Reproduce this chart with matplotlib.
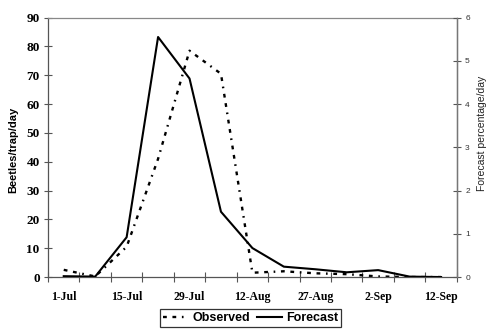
from __future__ import annotations

import matplotlib

matplotlib.use("Agg")

import matplotlib.pyplot as plt
from matplotlib.lines import Line2D


# one category per trap reading, only every second date is labelled
DATES = [
    "1-Jul", "8-Jul", "15-Jul", "22-Jul", "29-Jul", "5-Aug", "12-Aug",
    "20-Aug", "27-Aug", "30-Aug", "2-Sep", "7-Sep", "12-Sep",
]
OBSERVED = [2.5, 0.2, 10.5, 41.0, 78.5, 70.5, 1.5, 2.0, 1.3, 1.0, 0.2, 0.0, 0.0]
# forecast is on the secondary axis (percentage/day)
FORECAST = [0.02, 0.01, 0.92, 5.55, 4.59, 1.51, 0.67, 0.24, 0.18, 0.11, 0.16, 0.01, 0.0]

LEFT_TICKS = list(range(0, 91, 10))
RIGHT_TICKS = list(range(0, 7))

SERIF = "Liberation Serif"
SANS = "Liberation Sans"
SPINE_COLOR = "#555555"
OBSERVED_STYLE = (0, (1.6, 2.4, 1.6, 2.4, 0.7, 2.4))


def plot_chart(output: str = "out.png") -> None:
    fig = plt.figure(figsize=(4.87, 3.31), dpi=100)
    ax = fig.add_axes([0.0986, 0.163, 0.8394, 0.784])
    ax2 = ax.twinx()

    positions = list(range(len(DATES)))
    ax.plot(
        positions,
        OBSERVED,
        color="black",
        linewidth=1.7,
        linestyle=OBSERVED_STYLE,
        label="Observed",
    )
    ax2.plot(positions, FORECAST, color="black", linewidth=1.5, label="Forecast")

    ax.set_xlim(-0.5, len(DATES) - 0.5)
    ax.set_ylim(LEFT_TICKS[0], LEFT_TICKS[-1])
    ax2.set_ylim(RIGHT_TICKS[0], RIGHT_TICKS[-1])

    # tick marks between categories, labels on every other category
    ax.set_xticks([p - 0.5 for p in range(len(DATES) + 1)])
    ax.set_xticklabels([])
    ax.set_xticks(positions[::2], minor=True)
    ax.set_xticklabels(DATES[::2], minor=True)
    ax.tick_params(axis="x", which="major", direction="inout", length=7,
                   width=0.8, color=SPINE_COLOR)
    ax.tick_params(axis="x", which="minor", length=0, pad=10)
    for label in ax.get_xticklabels(minor=True):
        label.set_fontfamily(SERIF)
        label.set_fontweight("bold")
        label.set_fontsize(8.5)

    ax.set_yticks(LEFT_TICKS)
    ax.tick_params(axis="y", direction="inout", length=6, width=0.8,
                   color=SPINE_COLOR, pad=3)
    for label in ax.get_yticklabels():
        label.set_fontfamily(SERIF)
        label.set_fontweight("bold")
        label.set_fontsize(9.5)

    ax2.set_yticks(RIGHT_TICKS)
    ax2.tick_params(axis="y", direction="inout", length=6, width=0.8,
                    color=SPINE_COLOR, pad=3)
    for label in ax2.get_yticklabels():
        label.set_fontfamily(SANS)
        label.set_fontsize(6)
        label.set_color("#333333")

    for spine in ax.spines.values():
        spine.set_color(SPINE_COLOR)
        spine.set_linewidth(0.9)
    ax.spines["top"].set_color("#888888")
    ax2.spines["right"].set_color("#777777")
    ax2.spines["right"].set_linewidth(0.9)
    for name in ("left", "top", "bottom"):
        ax2.spines[name].set_visible(False)

    ax.set_ylabel("Beetles/trap/day", fontfamily=SANS, fontweight="bold",
                  fontsize=8)
    ax.yaxis.set_label_coords(-0.073, 0.49)
    ax2.set_ylabel("Forecast percentage/day", fontfamily=SANS, fontsize=7.5,
                   color="#222222")
    ax2.yaxis.set_label_coords(1.05, 0.555)

    handles = [
        Line2D([], [], color="black", linewidth=1.7, linestyle=OBSERVED_STYLE),
        Line2D([], [], color="black", linewidth=1.5),
    ]
    legend = fig.legend(
        handles,
        ["Observed", "Forecast"],
        loc="upper center",
        bbox_to_anchor=(0.515, 0.085),
        ncol=2,
        frameon=True,
        fancybox=False,
        handlelength=2.0,
        handletextpad=0.3,
        columnspacing=0.6,
        borderpad=0.25,
        prop={"family": SANS, "weight": "bold", "size": 9},
    )
    legend.get_frame().set_edgecolor("black")
    legend.get_frame().set_linewidth(0.9)

    fig.savefig(output, dpi=100)
    plt.close(fig)


def main() -> None:
    plot_chart("out.png")


if __name__ == "__main__":
    main()
